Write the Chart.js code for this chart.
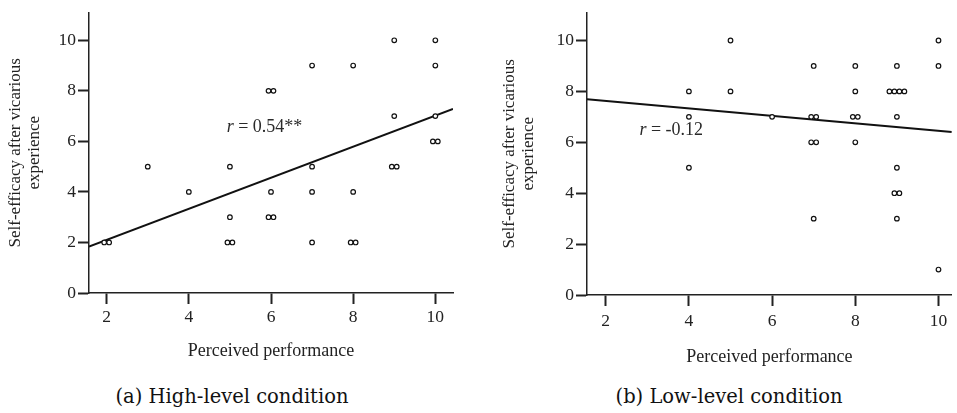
<!DOCTYPE html>
<html>
<head>
<meta charset="utf-8">
<script src="https://cdn.jsdelivr.net/npm/chart.js@4"></script>
<style>
  html, body { margin: 0; padding: 0; background: #fff; width: 957px; height: 413px; overflow: hidden; }
  #wrapA { position: absolute; left: 0; top: 0; width: 470px; height: 380px; }
  #wrapB { position: absolute; left: 490px; top: 0; width: 467px; height: 380px; }
  .cap { position: absolute; top: 385px; line-height: 24px; font-family: "DejaVu Serif", serif; font-size: 19.5px; color: #111; white-space: nowrap; transform: translateX(-50%); }
</style>
</head>
<body>
<div id="wrapA"><canvas id="chartA" width="470" height="380"></canvas></div>
<div id="wrapB"><canvas id="chartB" width="467" height="380"></canvas></div>
<div class="cap" style="left:232px">(a) High-level condition</div>
<div class="cap" style="left:729px">(b) Low-level condition</div>
<script>
// ---------- Data ----------
const xTicks = [2, 4, 6, 8, 10];
const yTicks = [0, 2, 4, 6, 8, 10];
const xTitle = "Perceived performance";
const yTitle = ["Self-efficacy after vicarious", "experience"];

// (a) High-level condition: perceived performance / self-efficacy (duplicates slightly side by side)
const highX = [1.94, 2.06, 3, 4, 5, 5, 4.94, 5.06, 5.94, 6.06, 6, 5.94, 6.06, 7, 7, 7, 7, 8, 8, 7.94, 8.06, 9, 9, 8.94, 9.06, 10, 10, 10, 9.94, 10.06];
const highY = [2, 2, 5, 4, 5, 3, 2, 2, 8, 8, 4, 3, 3, 9, 5, 4, 2, 9, 4, 2, 2, 10, 7, 5, 5, 10, 9, 7, 6, 6];
const highFitX = [1.57, 10.43];
const highFitY = [1.84, 7.28];
const highLabel = { r: "r", rest: " = 0.54**", x: 4.92, y: 6.54 };

// (b) Low-level condition
const lowX = [4, 4, 4, 5, 5, 6, 7, 6.94, 7.06, 6.94, 7.06, 7, 8, 8, 7.94, 8.06, 8, 9, 8.82, 8.94, 9.06, 9.18, 9, 9, 8.94, 9.06, 9, 10, 10, 10];
const lowY = [8, 7, 5, 10, 8, 7, 9, 7, 7, 6, 6, 3, 9, 8, 7, 7, 6, 9, 8, 8, 8, 8, 7, 5, 4, 4, 3, 10, 9, 1];
const lowFitX = [1.55, 10.32];
const lowFitY = [7.69, 6.40];
const lowLabel = { r: "r", rest: " = -0.12", x: 2.81, y: 6.46 };

const SERIF = '"Liberation Serif", "Times New Roman", serif';

function pts(xs, ys) { return xs.map((x, i) => ({ x: x, y: ys[i] })); }

const annotPlugin = {
  id: 'annot',
  afterDatasetsDraw(chart, args, opts) {
    const lab = opts.label;
    if (!lab) return;
    const ctx = chart.ctx;
    const px = chart.scales.x.getPixelForValue(lab.x);
    const py = chart.scales.y.getPixelForValue(lab.y);
    ctx.save();
    ctx.fillStyle = '#2a2a2a';
    ctx.textBaseline = 'middle';
    ctx.textAlign = 'left';
    ctx.font = 'italic 18px ' + SERIF;
    ctx.fillText(lab.r, px, py);
    const w = ctx.measureText(lab.r).width;
    ctx.font = '18px ' + SERIF;
    ctx.fillText(lab.rest, px + w, py);
    ctx.restore();
  }
};

function makeChart(id, cfg) {
  return new Chart(document.getElementById(id), {
    type: 'scatter',
    data: {
      datasets: [
        {
          type: 'line',
          data: pts(cfg.fitX, cfg.fitY),
          borderColor: '#111',
          borderWidth: 2,
          pointRadius: 0,
          fill: false,
          order: 1
        },
        {
          data: pts(cfg.xs, cfg.ys),
          pointRadius: 2.3,
          pointBorderWidth: 1.2,
          pointBorderColor: '#111',
          pointBackgroundColor: '#fff',
          order: 0
        }
      ]
    },
    options: {
      responsive: false,
      animation: false,
      layout: { padding: cfg.pad },
      plugins: { legend: { display: false }, tooltip: { enabled: false }, annot: { label: cfg.label } },
      scales: {
        x: {
          type: 'linear',
          min: cfg.fitX[0],
          max: cfg.fitX[1],
          afterBuildTicks: s => { s.ticks = xTicks.map(v => ({ value: v })); },
          afterFit: s => { s.height = cfg.xH; },
          border: { display: true, color: '#222', width: 1.5 },
          grid: { drawOnChartArea: false, drawTicks: true, tickLength: 11, color: '#222', tickWidth: 2 },
          ticks: { color: '#222', padding: cfg.xTickPad, font: { family: SERIF, size: 17.5 } },
          title: { display: true, text: xTitle, color: '#222', font: { family: SERIF, size: 18 }, padding: { top: 0, bottom: cfg.xTitlePad } }
        },
        y: {
          type: 'linear',
          min: 0,
          max: cfg.yMax,
          afterBuildTicks: s => { s.ticks = yTicks.map(v => ({ value: v })); },
          afterFit: s => { s.width = cfg.yW; },
          border: { display: true, color: '#222', width: 1.5 },
          grid: { drawOnChartArea: false, drawTicks: true, tickLength: 11, color: '#222', tickWidth: 2 },
          ticks: { color: '#222', padding: 2, font: { family: SERIF, size: 17.5 } },
          title: { display: true, text: yTitle, color: '#222', font: { family: SERIF, size: 17, lineHeight: 1.12 }, padding: { top: cfg.yTitlePad, bottom: 0 } }
        }
      }
    },
    plugins: [annotPlugin]
  });
}

makeChart('chartA', {
  xs: highX, ys: highY, fitX: highFitX, fitY: highFitY, label: highLabel,
  pad: { top: 8, right: 17, left: 0, bottom: 0 },
  xH: 87, yW: 89, xTickPad: 3, xTitlePad: 18, yTitlePad: 6, yMax: 11.1
});
makeChart('chartB', {
  xs: lowX, ys: lowY, fitX: lowFitX, fitY: lowFitY, label: lowLabel,
  pad: { top: 3, right: 0, left: 0, bottom: 0 },
  xH: 85, yW: 97, xTitlePad: 12, xTickPad: 5, yTitlePad: 10, yMax: 11.1
});
</script>
</body>
</html>
